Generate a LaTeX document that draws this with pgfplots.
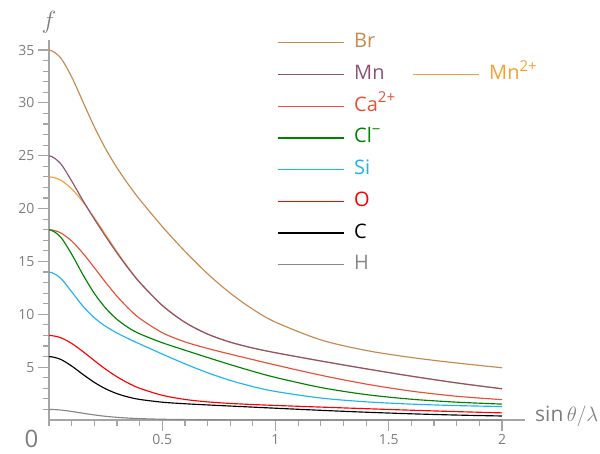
\documentclass[border=0pt]{standalone}
\usepackage{pgfplots}
\pgfplotsset{compat=1.18}
\usepackage{pgfplotstable}
\usepackage{fontspec}
\setmainfont{Open Sans}
\definecolor{axgray}{RGB}{165,165,165}
\definecolor{labgray}{RGB}{125,125,125}
\definecolor{cBr}{RGB}{196,138,78}
\definecolor{cMn}{RGB}{140,82,118}
\definecolor{cMnt}{RGB}{245,160,50}
\definecolor{cCa}{RGB}{232,80,55}
\definecolor{cCl}{RGB}{0,130,0}
\definecolor{cSi}{RGB}{30,180,240}
\definecolor{cO}{RGB}{255,0,0}
\definecolor{cC}{RGB}{0,0,0}
\definecolor{cH}{RGB}{135,135,135}
\newcommand{\chg}[1]{\raisebox{0.42em}{\fontsize{15}{15}\selectfont #1}}

\pgfplotstableread{
s     H      C      O      Si      Cl      Ca      Mn      Mntwo   Br
-0.05 0.947  5.749  7.798  13.436  17.333  17.722  24.281  22.707  34.292
0     1.000  5.999  7.999  13.998  17.994  18.003  24.992  23.001  34.993
0.05  0.947  5.749  7.798  13.436  17.333  17.722  24.281  22.707  34.292
0.1   0.811  5.108  7.246  12.134  15.688  16.933  22.613  21.875  32.458
0.15  0.641  4.310  6.472  10.767  13.742  15.772  20.756  20.629  30.094
0.2   0.481  3.560  5.623  9.675   11.986  14.412  19.014  19.126  27.742
0.25  0.349  2.950  4.808  8.861   10.585  13.020  17.371  17.517  25.657
0.3   0.251  2.494  4.089  8.230   9.525   11.716  15.806  15.920  23.864
0.35  0.180  2.171  3.489  7.696   8.741   10.575  14.347  14.415  22.294
0.4   0.130  1.947  3.006  7.201   8.157   9.626   13.027  13.055  20.872
0.5   0.071  1.686  2.337  6.240   7.311   8.259   10.845  10.829  18.301
0.6   0.040  1.537  1.946  5.314   6.604   7.395   9.246   9.229   15.961
0.7   0.024  1.425  1.715  4.472   5.914   6.771   8.132   8.125   13.842
0.8   0.015  1.321  1.568  3.750   5.242   6.231   7.366   7.365   12.004
0.9   0.010  1.218  1.463  3.161   4.606   5.712   6.811   6.811   10.476
1.0   0.007  1.115  1.377  2.699   4.026   5.202   6.364   6.364   9.256
1.2   0.003  0.916  1.221  2.077   3.074   4.236   5.583   5.582   7.580
1.4   0.002  0.737  1.070  1.720   2.404   3.400   4.844   4.842   6.580
1.6   0.002  0.586  0.926  1.503   1.966   2.731   4.146   4.143   5.913
1.8   0.001  0.467  0.792  1.364   1.688   2.245   3.509   3.507   5.392
2.0   0.001  0.379  0.674  1.273   1.504   1.925   2.954   2.951   4.944
}\fdata

\pgfplotsset{
  frame/.style={
    at={(0,0)}, anchor=south west,
    scale only axis, width=475.65pt, height=380pt,
    xmin=0, xmax=2.1, ymin=0, ymax=35.95,
    clip=true, clip mode=individual,
    legend cell align=left,
    legend image code/.code={\draw[##1, line width=1.25pt] (0pt,0pt) -- (66pt,0pt);},
    legend style={draw=none, fill=none, inner sep=0pt, outer sep=0pt, anchor=north west,
      nodes={inner sep=0pt, font=\fontsize{20}{20}\selectfont, text height=15pt, text depth=5pt},
      row sep=11.7pt,
      /tikz/every odd column/.append style={column sep=10pt}},
  },
  curve/.style={line width=1.15pt, smooth},
}

\begin{document}
\begin{tikzpicture}[x=1pt,y=1pt]
\useasboundingbox (-49,-33) rectangle (551,420);
% Mn2+ (own legend column)
\begin{axis}[frame, hide axis,
  legend style={at={(axis cs:1.6026,33.63)}}]
\addplot[cMnt, curve] table[x=s,y=Mntwo] {\fdata};
\addlegendentry[text=cMnt]{Mn\chg{2+}}
\end{axis}
% main axis
\begin{axis}[frame,
  axis lines=left,
  axis line style={-, draw=axgray, line width=1.5pt},
  tick align=outside,
  tick style={draw=axgray, line width=1.2pt},
  major tick length=11pt, minor tick length=6pt,
  xtick={0.5,1,1.5,2}, xticklabels={0.5,1,1.5,2},
  minor xtick={0,0.1,...,1.95},
  ytick={5,10,...,35},
  minor ytick={1,2,...,34},
  tick label style={font=\fontsize{14}{14}\selectfont, text=labgray},
  /pgf/number format/assume math mode=true,
  legend style={at={(axis cs:1.0066,36.63)}},
]
\addplot[cBr, curve] table[x=s,y=Br] {\fdata};
\addlegendentry[text=cBr]{Br}
\addplot[cMn, curve] table[x=s,y=Mn] {\fdata};
\addlegendentry[text=cMn]{Mn}
\addplot[cCa, curve] table[x=s,y=Ca] {\fdata};
\addlegendentry[text=cCa]{Ca\chg{2+}}
\addplot[cCl, curve] table[x=s,y=Cl] {\fdata};
\addlegendentry[text=cCl]{Cl\chg{\char"2212}}
\addplot[cSi, curve] table[x=s,y=Si] {\fdata};
\addlegendentry[text=cSi]{Si}
\addplot[cO, curve] table[x=s,y=O] {\fdata};
\addlegendentry[text=cO]{O}
\addplot[cC, curve] table[x=s,y=C] {\fdata};
\addlegendentry[text=cC]{C}
\addplot[cH, curve] table[x=s,y=H] {\fdata};
\addlegendentry[text=cH]{H}

\node[text=labgray, anchor=base, inner sep=0pt, font=\fontsize{24}{24}\selectfont] at (axis cs:0,0) [xshift=-17.5pt, yshift=-27.5pt] {0};
\node[text=labgray, font=\fontsize{34}{34}\selectfont] at (axis cs:0,0) [xshift=0pt, yshift=398pt] {$f$};
\node[text=labgray, anchor=west, font=\fontsize{21}{21}\selectfont] at (axis cs:2.1,0) [xshift=7pt, yshift=4pt] {sin\,$\theta\big/\lambda$};
\end{axis}
\end{tikzpicture}
\end{document}
